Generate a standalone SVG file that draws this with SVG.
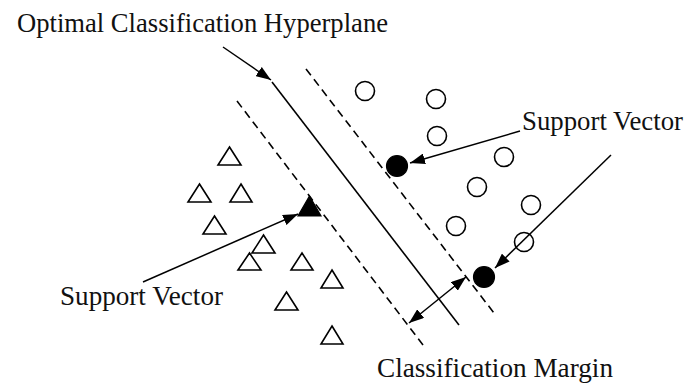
<svg xmlns="http://www.w3.org/2000/svg" width="688" height="385" viewBox="0 0 688 385">
<style>
text{font-family:"Liberation Serif","Times New Roman",serif;font-size:26.5px;fill:#111}
.solid{stroke:#000;stroke-width:1.6;fill:none}
.dash{stroke:#000;stroke-width:1.6;fill:none;stroke-dasharray:8 5}
.open{fill:#fff;stroke:#000;stroke-width:1.6}
.fill{fill:#000;stroke:#000;stroke-width:1.2}
.arr{stroke:#000;stroke-width:1.5;fill:none;marker-end:url(#ah)}
.darr{stroke:#000;stroke-width:1.5;fill:none;marker-end:url(#ah);marker-start:url(#ah)}
</style>
<defs>
<marker id="ah" markerUnits="userSpaceOnUse" markerWidth="15" markerHeight="11" refX="15" refY="5.5" orient="auto-start-reverse" viewBox="0 0 15 11">
<path d="M0,0 L15,5.5 L0,11 z" fill="#000"/>
</marker>
</defs>
<rect width="688" height="385" fill="#fff"/>
<g id="lines">
<line id="hyperplane" class="solid" x1="272" y1="82" x2="459" y2="325"/>
<line id="margin-left" class="dash" x1="237" y1="101" x2="423" y2="345"/>
<line id="margin-right" class="dash" x1="306" y1="69" x2="494" y2="313"/>
</g>
<g id="circles">
<circle class="open" cx="365" cy="91" r="9.5"/>
<circle class="open" cx="436" cy="99" r="9.5"/>
<circle class="open" cx="437" cy="136" r="9.5"/>
<circle class="open" cx="504" cy="157" r="9.5"/>
<circle class="open" cx="477" cy="187" r="9.5"/>
<circle class="open" cx="531" cy="205" r="9.5"/>
<circle class="open" cx="456" cy="226" r="9.5"/>
<circle class="open" cx="524" cy="242" r="9.5"/>
</g>
<g id="sv-circle-1"><circle class="fill" cx="397" cy="166" r="10.5"/></g>
<g id="sv-circle-2"><circle class="fill" cx="484" cy="277" r="10.5"/></g>
<g id="triangles">
<path class="open" d="M229.5,147 L241,165 L218,165 z"/>
<path class="open" d="M199.5,184 L211,202 L188,202 z"/>
<path class="open" d="M241,184 L252,202 L230,202 z"/>
<path class="open" d="M214.5,216 L226,234 L203,234 z"/>
<path class="open" d="M263.5,235 L275,253 L252,253 z"/>
<path class="open" d="M249.5,253 L261,270 L238,270 z"/>
<path class="open" d="M302,253 L313,270 L291,270 z"/>
<path class="open" d="M332,270 L343,288 L321,288 z"/>
<path class="open" d="M286.5,292 L298,310 L275,310 z"/>
<path class="open" d="M332,326 L343,344 L321,344 z"/>
</g>
<g id="sv-triangle"><path class="fill" d="M309.5,196 L321,216 L298,216 z"/></g>
<g id="connectors">
<line class="arr" x1="223" y1="47" x2="271" y2="80"/>
<line class="arr" x1="520" y1="131" x2="410" y2="163"/>
<line class="arr" x1="611" y1="155" x2="495" y2="268"/>
<line class="arr" x1="143" y1="282" x2="298" y2="214"/>
<line class="darr" x1="409" y1="323" x2="466" y2="277"/>
</g>
<g id="label-title"><text x="17" y="32" textLength="371" lengthAdjust="spacingAndGlyphs">Optimal Classification  Hyperplane</text></g>
<g id="label-sv-right"><text x="522" y="130" textLength="161" lengthAdjust="spacingAndGlyphs">Support Vector</text></g>
<g id="label-sv-left"><text x="60" y="305" textLength="163" lengthAdjust="spacingAndGlyphs">Support Vector</text></g>
<g id="label-margin"><text x="377" y="377" textLength="236" lengthAdjust="spacingAndGlyphs">Classification  Margin</text></g>
</svg>
